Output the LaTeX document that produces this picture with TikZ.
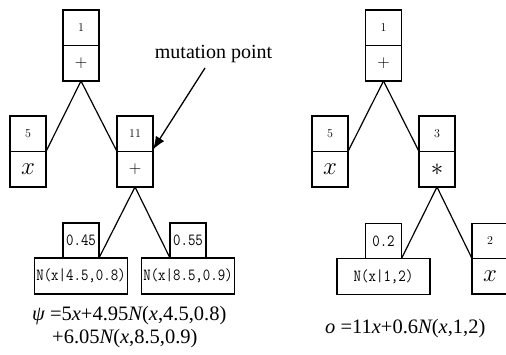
\documentclass[tikz,border=0pt]{standalone}
\usepackage{fontspec}
\usepackage{graphicx}
\usetikzlibrary{arrows.meta}
\newfontfamily\tnr{Liberation Serif}
\newcommand{\monotext}[1]{\scalebox{0.85}[1]{\fontsize{17}{17}\ttfamily #1}}
\tikzset{
  x=1pt, y=-1pt,
  cell/.style={draw, line width=1.2pt, inner sep=0pt, outer sep=0pt,
               minimum width=36pt, minimum height=35.5pt},
  wcell/.style={cell, minimum height=35pt},
  ncell/.style={cell, minimum width=93pt, minimum height=36pt},
  lab/.style={font=\fontsize{12}{12}\selectfont},
  plus/.style={font=\fontsize{18}{18}\selectfont},
  var/.style={font=\fontsize{23}{23}\selectfont},
  conn/.style={line width=1.2pt},
  formula/.style={anchor=base west, inner sep=0pt, font=\tnr\fontsize{20.5}{20.5}\selectfont},
}
\begin{document}
\begin{tikzpicture}
\useasboundingbox (0,0) rectangle (506,355);
\clip (0,0) rectangle (506,355);
% ---------- left tree ----------
\node[cell,lab] (L1) at (81,27.75) {1};
\node[cell,plus,anchor=north] (L1o) at (L1.south) {$+$};
\node[cell,lab] (L5) at (28,133.75) {5};
\node[cell,var,anchor=north] (L5o) at (L5.south) {$x$};
\node[cell,lab] (L11) at (135,133.75) {11};
\node[cell,plus,anchor=north] (L11o) at (L11.south) {$+$};
\node[wcell] (Lw1) at (81,240.5) {\monotext{0.45}};
\node[ncell,anchor=north] (Ln1) at (Lw1.south) {\monotext{N(x|4.5,0.8)}};
\node[wcell] (Lw2) at (188,240.5) {\monotext{0.55}};
\node[ncell,anchor=north] (Ln2) at (Lw2.south) {\monotext{N(x|8.5,0.9)}};
\draw[conn] (L1o.south) -- (L5.south east);
\draw[conn] (L1o.south) -- (L11.south west);
\draw[conn] (L11o.south) -- (Lw1.south east);
\draw[conn] (L11o.south) -- (Lw2.south west);
% mutation point
\node[anchor=base, inner sep=0pt, font=\tnr\fontsize{20}{20}\selectfont] (mp) at (213.5,59) {mutation point};
\coordinate (mpa) at (205,68);
\draw[line width=1.3pt, -{Latex[length=13pt,width=10pt]}] (mpa) -- ([yshift=2pt]L11.south east);
% formula left
\node[formula] (f1) at (32,320.7) {{\itshape ψ} =5{\itshape x}+4.95{\itshape N}({\itshape x},4.5,0.8)};
\node[formula] (f2) at (52,344) {+6.05{\itshape N}({\itshape x},8.5,0.9)};
% ---------- right tree ----------
\node[cell,lab] (R1) at (383.5,27.75) {1};
\node[cell,plus,anchor=north] (R1o) at (R1.south) {$+$};
\node[cell,lab] (R5) at (330,133.75) {5};
\node[cell,var,anchor=north] (R5o) at (R5.south) {$x$};
\node[cell,lab] (R3) at (437,133.75) {3};
\node[cell,font=\fontsize{28}{28}\selectfont,anchor=north] (R3o) at (R3.south) {$\ast$};
\node[wcell] (Rw1) at (383.5,241) {\monotext{0.2}};
\node[ncell,anchor=north] (Rn1) at (Rw1.south) {\monotext{N(x|1,2)}};
\node[wcell,lab] (R2) at (490,241) {2};
\node[cell,var,anchor=north,minimum height=35.5pt] (R2o) at (R2.south) {$x$};
\draw[conn] (R1o.south) -- (R5.south east);
\draw[conn] (R1o.south) -- (R3.south west);
\draw[conn] (R3o.south) -- (Rw1.south east);
\draw[conn] (R3o.south) -- (R2.south west);
\node[formula] (f3) at (325,334) {{\itshape o} =11{\itshape x}+0.6{\itshape N}({\itshape x},1,2)};
\end{tikzpicture}
\end{document}
